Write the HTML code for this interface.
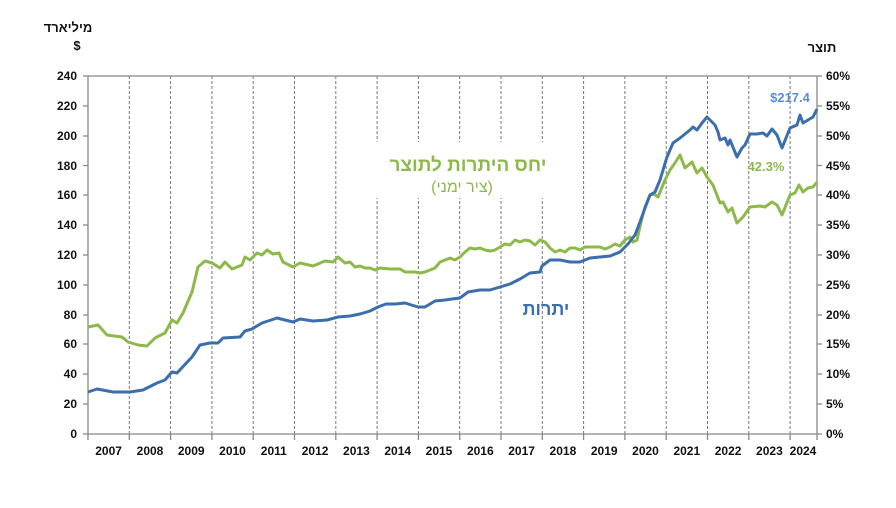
<!DOCTYPE html>
<html><head><meta charset="utf-8"><style>
html,body{margin:0;padding:0;background:#fff;}
svg{display:block;font-family:"Liberation Sans","Noto Sans CJK SC",sans-serif;}
</style></head><body>
<svg width="896" height="508" viewBox="0 0 896 508" xmlns="http://www.w3.org/2000/svg">
<g stroke="#777" stroke-width="1" stroke-dasharray="3,2">
<line x1="129.3" y1="76" x2="129.3" y2="434"/><line x1="170.6" y1="76" x2="170.6" y2="434"/><line x1="211.9" y1="76" x2="211.9" y2="434"/><line x1="253.2" y1="76" x2="253.2" y2="434"/><line x1="294.5" y1="76" x2="294.5" y2="434"/><line x1="335.8" y1="76" x2="335.8" y2="434"/><line x1="377.1" y1="76" x2="377.1" y2="434"/><line x1="418.4" y1="76" x2="418.4" y2="434"/><line x1="459.7" y1="76" x2="459.7" y2="434"/><line x1="501" y1="76" x2="501" y2="434"/><line x1="542.3" y1="76" x2="542.3" y2="434"/><line x1="583.6" y1="76" x2="583.6" y2="434"/><line x1="624.9" y1="76" x2="624.9" y2="434"/><line x1="666.2" y1="76" x2="666.2" y2="434"/><line x1="707.5" y1="76" x2="707.5" y2="434"/><line x1="748.8" y1="76" x2="748.8" y2="434"/><line x1="790.1" y1="76" x2="790.1" y2="434"/>
</g>
<rect x="370" y="142" width="196" height="56" fill="#fff"/>
<g stroke="#888" stroke-width="1.3" fill="none">
<line x1="83" y1="76" x2="822" y2="76"/>
<line x1="88" y1="76" x2="88" y2="434"/>
<line x1="817" y1="76" x2="817" y2="434"/>
<line x1="83" y1="434" x2="817" y2="434"/>
<path d="M83 106H88M83 136H88M83 165.5H88M83 195H88M83 225H88M83 255H88M83 285H88M83 315H88M83 344H88M83 374H88M83 404H88"/>
<path d="M817 106H822M817 136H822M817 165.5H822M817 195H822M817 225H822M817 255H822M817 285H822M817 315H822M817 344H822M817 374H822M817 404H822M817 434H822"/>
<path d="M88 434V440M129.3 434V440M170.6 434V440M211.9 434V440M253.2 434V440M294.5 434V440M335.8 434V440M377.1 434V440M418.4 434V440M459.7 434V440M501 434V440M542.3 434V440M583.6 434V440M624.9 434V440M666.2 434V440M707.5 434V440M748.8 434V440M790.1 434V440M817 434V440"/>
</g>
<g font-size="12" font-weight="bold" fill="#111" text-anchor="end">
<text x="77" y="80">240</text><text x="77" y="110">220</text><text x="77" y="140">200</text><text x="77" y="170">180</text><text x="77" y="199">160</text><text x="77" y="229">140</text><text x="77" y="259">120</text><text x="77" y="289">100</text><text x="77" y="319">80</text><text x="77" y="348">60</text><text x="77" y="378">40</text><text x="77" y="408">20</text><text x="77" y="438">0</text>
</g>
<g font-size="12" font-weight="bold" fill="#111">
<text x="826" y="80">60%</text><text x="826" y="110">55%</text><text x="826" y="140">50%</text><text x="826" y="170">45%</text><text x="826" y="199">40%</text><text x="826" y="229">35%</text><text x="826" y="259">30%</text><text x="826" y="289">25%</text><text x="826" y="319">20%</text><text x="826" y="348">15%</text><text x="826" y="378">10%</text><text x="826" y="408">5%</text><text x="826" y="438">0%</text>
</g>
<g font-size="12" font-weight="bold" fill="#111" text-anchor="middle">
<text x="108.6" y="455">2007</text><text x="150" y="455">2008</text><text x="191.2" y="455">2009</text><text x="232.5" y="455">2010</text><text x="273.8" y="455">2011</text><text x="315.1" y="455">2012</text><text x="356.4" y="455">2013</text><text x="397.7" y="455">2014</text><text x="439" y="455">2015</text><text x="480.3" y="455">2016</text><text x="521.6" y="455">2017</text><text x="562.9" y="455">2018</text><text x="604.2" y="455">2019</text><text x="645.5" y="455">2020</text><text x="686.8" y="455">2021</text><text x="728.1" y="455">2022</text><text x="803" y="455">2024</text><text x="769.4" y="455">2023</text>
</g>
<g font-size="13" font-weight="bold" fill="#111" text-anchor="middle">
<text x="68" y="32">מיליארד</text>
<text x="77" y="50">$</text>
<text x="822" y="52">תוצר</text>
</g>
<polyline fill="none" stroke="#8db94a" stroke-width="3" stroke-linejoin="round" points="88,327 98,325 107,335 122,337 128,342 138,345 147,346 155,338 165,333 172,320 177,323 183,313 192,292 198,267 205,261 212,263 220,268 225,262 232,269 242,265 245,257 250,260 257,253 262,255 267,250 273,254 279,253 283,262 293,267 300,263 313,266 325,261 333,262 338,257 345,263 350,262 355,267 360,266 365,268 370,268 375,270 380,268 390,269 400,269 405,272 415,272 420,273 425,272 430,270 435,268 440,262 445,260 450,258 455,260 460,257 465,252 470,248 475,249 480,248 485,250 490,251 495,250 500,247 505,244 510,245 515,240 520,242 525,240 530,241 535,245 540,240 545,242 550,248 555,252 560,250 565,252 570,248 575,248 580,250 585,247 590,247 600,247 605,249 610,247 615,244 620,246 625,240 630,237 633,242 637,240 641,222 645,207 650,195 654,194 658,197 665,180 670,170 675,163 680,155 685,168 692,162 697,173 702,168 707,177 713,185 720,203 723,202 728,212 732,208 737,223 743,217 750,207 760,206 765,207 772,202 777,205 782,215 790,195 795,193 799,185 803,192 808,188 813,187 817,182"/>
<polyline fill="none" stroke="#3a6ead" stroke-width="3" stroke-linejoin="round" points="88,392 97,389 113,392 130,392 143,390 157,383 165,380 172,372 177,373 192,357 200,345 210,343 218,343 223,338 240,337 245,331 252,329 262,323 277,318 293,322 300,319 313,321 327,320 338,317 350,316 360,314 370,311 378,307 386,304 395,304 405,303 418,307 425,307 435,301 445,300 452,299 460,298 468,292 480,290 490,290 500,287 510,284 520,279 530,273 540,272 542,266 550,260 560,260 570,262 580,262 590,258 600,257 610,256 620,252 628,244 635,235 640,222 645,208 650,195 655,192 660,180 667,157 673,143 680,138 690,130 693,127 697,130 702,123 707,117 715,125 718,132 720,140 725,138 728,145 730,140 737,157 742,148 745,145 750,134 757,134 763,133 767,136 772,129 777,135 782,148 790,128 797,125 800,115 803,123 808,120 813,117 817,109"/>
<text x="468" y="171" font-size="19" font-weight="bold" fill="#8db94a" text-anchor="middle">יחס היתרות לתוצר</text>
<text x="462" y="192" font-size="16" fill="#8db94a" text-anchor="middle">(ציר ימני)</text>
<text x="546" y="315" font-size="18" font-weight="bold" fill="#3a6ead" text-anchor="middle">יתרות</text>
<text x="790" y="102" font-size="13" font-weight="bold" fill="#5b8ed0" text-anchor="middle">$217.4</text>
<text x="766" y="171" font-size="13" font-weight="bold" fill="#8db94a" text-anchor="middle">42.3%</text>
</svg>
</body></html>
